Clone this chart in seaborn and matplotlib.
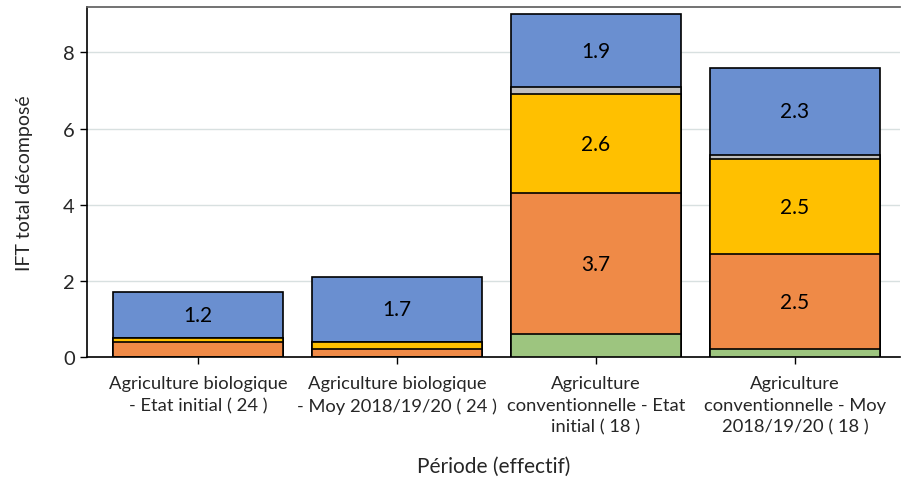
import numpy as np
import pandas as pd
import matplotlib
matplotlib.use("Agg")
import matplotlib.pyplot as plt
import seaborn as sns

# Catégories (périodes) et composantes de l'IFT
periodes = [
    "Agriculture biologique\n- Etat initial ( 24 )",
    "Agriculture biologique\n- Moy 2018/19/20 ( 24 )",
    "Agriculture\nconventionnelle - Etat\ninitial ( 18 )",
    "Agriculture\nconventionnelle - Moy\n2018/19/20 ( 18 )",
]
vert = [0.0, 0.0, 0.6, 0.2]
orange = [0.4, 0.2, 3.7, 2.5]
jaune = [0.1, 0.2, 2.6, 2.5]
gris = [0.0, 0.0, 0.2, 0.1]
bleu = [1.2, 1.7, 1.9, 2.3]

couches = [("vert", vert, "#9DC57F"), ("orange", orange, "#EF8A47"),
           ("jaune", jaune, "#FFC000"), ("gris", gris, "#BFBFBF"),
           ("bleu", bleu, "#6A8FD0")]

sns.set_theme(style="white")
plt.rcParams["font.family"] = ["Lato", "DejaVu Sans"]

fig, ax = plt.subplots(figsize=(9.04, 4.85), dpi=100)
fig.subplots_adjust(left=0.096, right=0.996, top=0.984, bottom=0.262)

# empilement: on trace les cumuls du plus haut au plus bas
cumul = np.cumsum([c[1] for c in couches], axis=0)
for i in range(len(couches) - 1, -1, -1):
    df = pd.DataFrame({"periode": periodes, "valeur": cumul[i]})
    sns.barplot(data=df, x="periode", y="valeur", color=couches[i][2],
                saturation=1, width=0.855, edgecolor="black", linewidth=1.2,
                ax=ax, zorder=3)

# étiquettes des segments importants
bas = np.zeros(len(periodes))
for nom, vals, col in couches:
    for j, v in enumerate(vals):
        if v >= 1:
            ax.text(j, bas[j] + v / 2, f"{v:.1f}", ha="center", va="center",
                    fontsize=15, color="black", zorder=5)
    bas += np.array(vals)

ax.set_xlim(-0.56, 3.53)
ax.set_ylim(0, 9.2)
ax.set_yticks([0, 2, 4, 6, 8])
ax.yaxis.grid(True, color="#D8E0E0", linewidth=1)
ax.set_axisbelow(True)

for s in ["left", "bottom"]:
    ax.spines[s].set_color("black")
    ax.spines[s].set_linewidth(1.2)
ax.spines["top"].set_color("#606060")
ax.spines["right"].set_visible(False)

ax.tick_params(axis="y", labelsize=14.5, length=5, width=1, color="black", left=True)
ax.tick_params(axis="x", labelsize=13.2, length=5, width=1, color="black", bottom=True, pad=8)
for lab in ax.get_xticklabels():
    lab.set_linespacing(1.45)
ax.set_xlabel("Période (effectif)", fontsize=15, labelpad=15)
ax.set_ylabel("IFT total décomposé", fontsize=14, labelpad=22)

fig.savefig("out.png", dpi=100)
